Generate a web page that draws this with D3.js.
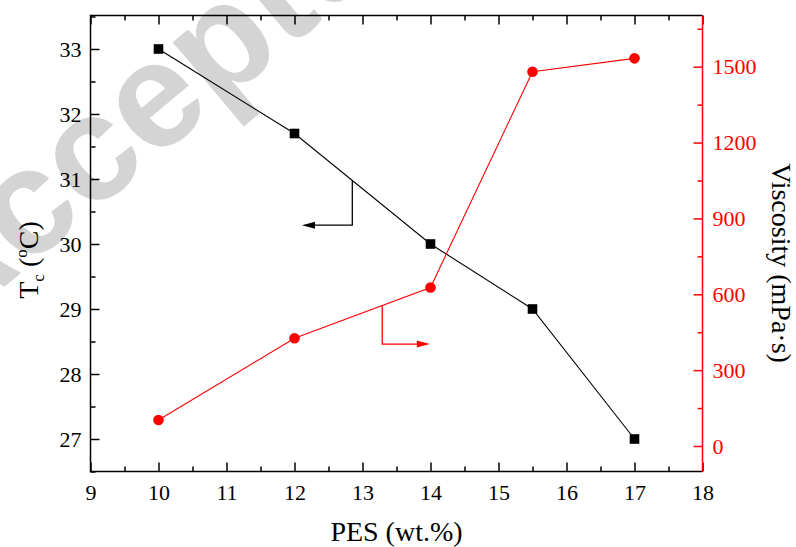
<!DOCTYPE html>
<html>
<head>
<meta charset="utf-8">
<script src="https://cdn.jsdelivr.net/npm/d3@7"></script>
<style>
  html, body { margin: 0; padding: 0; background: #fff; }
  svg { display: block; }
</style>
</head>
<body>
<svg id="chart" width="796" height="547"></svg>
<script>
// PES content (wt.%)
const pes = [10, 12, 14, 15.5, 17];
// Cloud-point temperature Tc (°C)
const tc = [33.0, 31.7, 30.0, 29.0, 27.0];
// Casting-solution viscosity (mPa·s)
const viscosity = [103, 426, 627, 1480, 1533];

const xTicks = [9, 10, 11, 12, 13, 14, 15, 16, 17, 18];
const tcTicks = [27, 28, 29, 30, 31, 32, 33];
const viscTicks = [0, 300, 600, 900, 1200, 1500];

// Arrow callouts: start on a series at x, drop to level, then point to axis side at tipX
const tcArrow = { x: 12.85, level: 30.29, tipX: 12.11 };
const viscArrow = { x: 13.29, level: 403, tipX: 13.99 };

const SERIF = "Liberation Serif, Times New Roman, Times, DejaVu Serif, serif";
const svg = d3.select("#chart");
const frame = { left: 90.5, right: 702.5, top: 15.5, bottom: 471.5 };
const RED = "#ff0000";

const x = d3.scaleLinear().domain([9, 18]).range([frame.left, frame.right]);
const yL = d3.scaleLinear().domain([27, 33]).range([439, 49]);
const yR = d3.scaleLinear().domain([0, 1500]).range([446, 66.7]);

// Watermark behind the plot
svg.append("text")
  .attr("transform", "translate(-59,340) rotate(-40)")
  .attr("font-family", "Liberation Sans, Arial, sans-serif")
  .attr("font-weight", "bold")
  .attr("font-size", 150)
  .attr("fill", "#d4d4d4")
  .text("Accepted Manuscript");

const half = (a, b) => d3.range(a, b + 1e-9, 0.5).filter(v => Math.abs(v - Math.round(v)) > 1e-9);

function styleAxis(g, color) {
  g.attr("font-family", SERIF).attr("font-size", 22);
  g.select(".domain").remove();
  g.selectAll("line").attr("stroke", color).attr("stroke-width", 1.5);
  g.selectAll("text").attr("fill", color);
}

// Bottom axis (ticks inward)
svg.append("g").attr("transform", `translate(0,${frame.bottom})`)
  .call(d3.axisBottom(x).tickValues(xTicks).tickFormat(d3.format("d")).tickSize(-9).tickPadding(13))
  .call(g => styleAxis(g, "#000"));
svg.append("g").attr("transform", `translate(0,${frame.bottom})`)
  .call(d3.axisBottom(x).tickValues(half(9, 18)).tickFormat("").tickSize(-5))
  .call(g => styleAxis(g, "#000"));
// Top axis (ticks only)
svg.append("g").attr("transform", `translate(0,${frame.top})`)
  .call(d3.axisTop(x).tickValues(xTicks).tickFormat("").tickSize(-9))
  .call(g => styleAxis(g, "#000"));
svg.append("g").attr("transform", `translate(0,${frame.top})`)
  .call(d3.axisTop(x).tickValues(half(9, 18)).tickFormat("").tickSize(-5))
  .call(g => styleAxis(g, "#000"));

// Left axis: Tc
svg.append("g").attr("transform", `translate(${frame.left},0)`)
  .call(d3.axisLeft(yL).tickValues(tcTicks).tickFormat(d3.format("d")).tickSize(-9).tickPadding(9))
  .call(g => styleAxis(g, "#000"));
svg.append("g").attr("transform", `translate(${frame.left},0)`)
  .call(d3.axisLeft(yL).tickValues(half(26.5, 33.5)).tickFormat("").tickSize(-5))
  .call(g => styleAxis(g, "#000"));

// Right axis: viscosity
svg.append("g").attr("transform", `translate(${frame.right},0)`)
  .call(d3.axisRight(yR).tickValues(viscTicks).tickFormat(d3.format("d")).tickSize(-9).tickPadding(10))
  .call(g => styleAxis(g, RED));
svg.append("g").attr("transform", `translate(${frame.right},0)`)
  .call(d3.axisRight(yR).tickValues(d3.range(150, 1700, 300)).tickFormat("").tickSize(-5))
  .call(g => styleAxis(g, RED));

// Frame
const fr = svg.append("g").attr("fill", "none").attr("stroke-width", 1.5);
fr.append("path").attr("stroke", "#000")
  .attr("d", `M${frame.right},${frame.top}H${frame.left}V${frame.bottom}H${frame.right}`);
fr.append("path").attr("stroke", RED)
  .attr("d", `M${frame.right},${frame.top}V${frame.bottom}`);

// Series
const tcData = pes.map((p, i) => [p, tc[i]]);
const vData = pes.map((p, i) => [p, viscosity[i]]);

svg.append("path").datum(tcData)
  .attr("fill", "none").attr("stroke", "#000").attr("stroke-width", 1.1)
  .attr("d", d3.line().x(d => x(d[0])).y(d => yL(d[1])));
svg.append("path").datum(vData)
  .attr("fill", "none").attr("stroke", RED).attr("stroke-width", 1.1)
  .attr("d", d3.line().x(d => x(d[0])).y(d => yR(d[1])));

svg.append("g").selectAll("rect").data(tcData).join("rect")
  .attr("x", d => x(d[0]) - 4.8).attr("y", d => yL(d[1]) - 4.8)
  .attr("width", 9.6).attr("height", 9.6).attr("fill", "#000");
svg.append("g").selectAll("circle").data(vData).join("circle")
  .attr("cx", d => x(d[0])).attr("cy", d => yR(d[1])).attr("r", 5.3).attr("fill", RED);

// Arrow callouts
function interp(data, xv) {
  for (let i = 1; i < data.length; i++) {
    if (xv <= data[i][0]) {
      const t = (xv - data[i - 1][0]) / (data[i][0] - data[i - 1][0]);
      return data[i - 1][1] + t * (data[i][1] - data[i - 1][1]);
    }
  }
  return data[data.length - 1][1];
}
function callout(a, data, yScale, color) {
  const x0 = x(a.x), y0 = yScale(interp(data, a.x)), y1 = yScale(a.level), xt = x(a.tipX);
  const dir = Math.sign(xt - x0);
  svg.append("path").attr("fill", "none").attr("stroke", color).attr("stroke-width", 1.3)
    .attr("d", `M${x0},${y0}V${y1}H${xt - dir * 8}`);
  svg.append("path").attr("fill", color)
    .attr("d", `M${xt},${y1}L${xt - dir * 13},${y1 - 3.5}L${xt - dir * 13},${y1 + 3.5}Z`);
}
callout(tcArrow, tcData, yL, "#000");
callout(viscArrow, vData, yR, RED);

// Axis titles
svg.append("text").attr("x", (frame.left + frame.right) / 2).attr("y", 541)
  .attr("font-family", SERIF)
  .attr("text-anchor", "middle").attr("font-size", 28).text("PES (wt.%)");

const tl = svg.append("text")
  .attr("transform", "translate(38,260) rotate(-90)")
  .attr("font-family", SERIF)
  .attr("text-anchor", "middle").attr("font-size", 28);
tl.append("tspan").text("T");
tl.append("tspan").attr("font-size", 17).attr("dy", 6).text("c");
tl.append("tspan").attr("dy", -6).text(" (");
tl.append("tspan").attr("font-size", 17).attr("dy", -11).text("o");
tl.append("tspan").attr("dy", 11).text("C)");

svg.append("text")
  .attr("transform", "translate(772,263) rotate(90)")
  .attr("font-family", SERIF)
  .attr("text-anchor", "middle").attr("font-size", 28).text("Viscosity (mPa·s)");
</script>
</body>
</html>
